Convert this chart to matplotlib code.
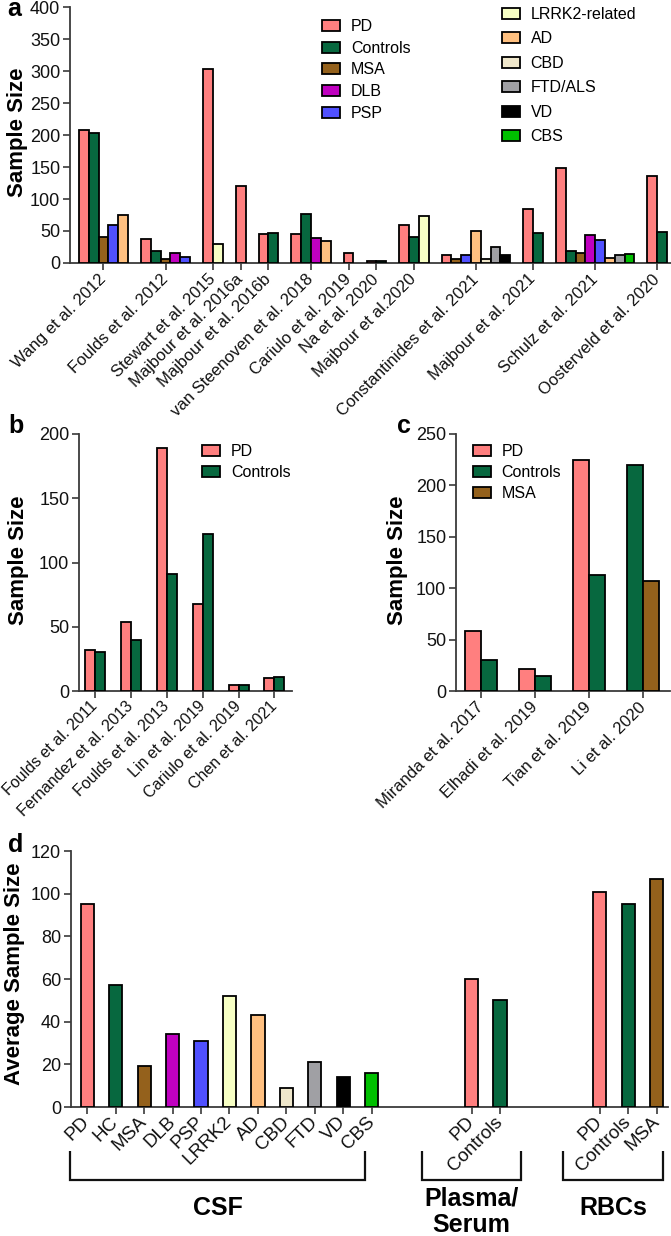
import numpy as np
import matplotlib
matplotlib.use('Agg')
import matplotlib.pyplot as plt
import matplotlib.patches as mpatches
from matplotlib.lines import Line2D

plt.rcParams['font.family'] = ['Liberation Sans', 'DejaVu Sans']

nan = np.nan

# ---------------- data ----------------
series_names = ['PD', 'Controls', 'MSA', 'DLB', 'PSP', 'LRRK2-related', 'AD',
                'CBD', 'FTD/ALS', 'VD', 'CBS']
series_colors = ['#FF7F7F', '#07683F', '#94611C', '#C000C0', '#5050FF', '#F7FFC4',
                 '#FFC080', '#EFE7CB', '#A0A0A4', '#000000', '#00C000']

# panel a (CSF studies)
a_studies = ['Wang et al. 2012', 'Foulds et al. 2012', 'Stewart et al. 2015',
             'Majbour et al. 2016a', 'Majbour et al. 2016b', 'van Steenoven et al. 2018',
             'Cariulo et al. 2019', 'Na et al. 2020', 'Majbour et al.2020',
             'Constantinides et al. 2021', 'Majbour et al. 2021', 'Schulz et al. 2021',
             'Oosterveld et al. 2020']
a_PD       = [208, 38, 303, 120, 45, 45, 16, 3, 59, 12, 85, 148, 136]
a_Controls = [203, 19, nan, nan, 47, 77, nan, 3, 41, nan, 47, 18, 49]
a_MSA      = [40, 6, nan, nan, nan, nan, nan, nan, nan, 7, nan, 15, nan]
a_DLB      = [nan, 16, nan, nan, nan, 39, nan, nan, nan, nan, nan, 43, nan]
a_PSP      = [59, 10, nan, nan, nan, nan, nan, nan, nan, 12, nan, 36, nan]
a_LRRK2    = [nan, nan, 29, nan, nan, nan, nan, nan, 73, nan, nan, nan, nan]
a_AD       = [75, nan, nan, nan, nan, 34, nan, nan, nan, 50, nan, 8, nan]
a_CBD      = [nan, nan, nan, nan, nan, nan, nan, nan, nan, 7, nan, nan, nan]
a_FTD      = [nan, nan, nan, nan, nan, nan, nan, nan, nan, 25, nan, 13, nan]
a_VD       = [nan, nan, nan, nan, nan, nan, nan, nan, nan, 13, nan, nan, nan]
a_CBS      = [nan, nan, nan, nan, nan, nan, nan, nan, nan, nan, nan, 14, nan]
a_series = [a_PD, a_Controls, a_MSA, a_DLB, a_PSP, a_LRRK2, a_AD, a_CBD, a_FTD, a_VD, a_CBS]
a_yticks = [0, 50, 100, 150, 200, 250, 300, 350, 400]

# panel b (plasma/serum studies)
b_studies = ['Foulds et al. 2011', 'Fernandez et al. 2013', 'Foulds et al. 2013',
             'Lin et al. 2019', 'Cariulo et al. 2019', 'Chen et al. 2021']
b_PD       = [32, 54, 189, 68, 5, 10]
b_Controls = [30, 40, 91, 122, 5, 11]
b_yticks = [0, 50, 100, 150, 200]

# panel c (RBC studies)
c_studies = ['Miranda et al. 2017', 'Elhadi et al. 2019', 'Tian et al. 2019', 'Li et al. 2020']
c_PD       = [58, 21, 225, nan]
c_Controls = [30, 15, 113, 220]
c_MSA      = [nan, nan, nan, 107]
c_yticks = [0, 50, 100, 150, 200, 250]

# panel d (average sample sizes)
d_csf_labels = ['PD', 'HC', 'MSA', 'DLB', 'PSP', 'LRRK2', 'AD', 'CBD', 'FTD', 'VD', 'CBS']
d_csf_values = [95, 57, 19, 34, 31, 52, 43, 9, 21, 14, 16]
d_csf_series = ['PD', 'Controls', 'MSA', 'DLB', 'PSP', 'LRRK2-related', 'AD', 'CBD',
                'FTD/ALS', 'VD', 'CBS']
d_plasma_labels = ['PD', 'Controls']
d_plasma_values = [60, 50]
d_plasma_series = ['PD', 'Controls']
d_rbc_labels = ['PD', 'Controls', 'MSA']
d_rbc_values = [101, 95, 107]
d_rbc_series = ['PD', 'Controls', 'MSA']
d_yticks = [0, 20, 40, 60, 80, 100, 120]
d_groups = ['CSF', 'Plasma/\nSerum', 'RBCs']

color_of = dict(zip(series_names, series_colors))

# ---------------- layout helpers ----------------
W, H = 671, 1236
fig = plt.figure(figsize=(W / 100, H / 100), dpi=100)

SPINE = '#3a3a3a'
TICKFS = 13
XLABFS = 12
YLABFS = 16
LEGFS = 11.5
EDGE_LW = 1.3


def axes_px(l, t, r, b):
    return fig.add_axes([l / W, 1 - b / H, (r - l) / W, (b - t) / H])


def style(ax, yticks):
    for s in ['top', 'right']:
        ax.spines[s].set_visible(False)
    for s in ['left', 'bottom']:
        ax.spines[s].set_color(SPINE)
        ax.spines[s].set_linewidth(1.3)
    ax.set_ylim(yticks[0], yticks[-1])
    ax.set_yticks(yticks)
    ax.tick_params(axis='both', direction='out', length=5, width=1.2, color=SPINE)
    ax.tick_params(axis='y', labelsize=TICKFS, pad=2, labelcolor='#111111')
    ax.tick_params(axis='x', labelsize=XLABFS, pad=5, labelcolor='#111111')


def rot_labels(ax, labels, fs=XLABFS):
    ax.set_xticklabels(labels, rotation=45, ha='right', va='center',
                       rotation_mode='anchor', fontsize=fs)


def legend_px(ax, names, x, y, spacing):
    handles = [mpatches.Patch(facecolor=color_of[n], edgecolor='black', linewidth=EDGE_LW)
               for n in names]
    leg = ax.legend(handles, names, loc='upper left', bbox_to_anchor=(x / W, 1 - y / H),
                    bbox_transform=fig.transFigure, frameon=False, fontsize=LEGFS,
                    handlelength=1.1, handleheight=0.7, handletextpad=0.7,
                    labelspacing=spacing, borderpad=0, borderaxespad=0)
    return leg


# ---------------- panel a ----------------
axa = axes_px(70, 7, 671, 263)
GAP_A = 1.34
pos = 0.0
centers_a = []
for j in range(len(a_studies)):
    present = [k for k in range(len(series_names)) if not np.isnan(a_series[k][j])]
    start = pos
    for k in present:
        axa.bar(pos + 0.5, a_series[k][j], width=1.0, color=series_colors[k],
                edgecolor='black', linewidth=EDGE_LW, zorder=3)
        pos += 1
    centers_a.append((start + pos) / 2)
    pos += GAP_A
pos -= GAP_A
axa.set_xlim(-0.92, pos + 0.41)
style(axa, a_yticks)
axa.set_xticks(centers_a)
rot_labels(axa, a_studies)
axa.set_ylabel('Sample Size', fontsize=YLABFS, fontweight='bold')
axa.yaxis.set_label_coords(-0.07, 0.51)
leg1 = legend_px(axa, series_names[:5], 322, 19, 0.42)
axa.add_artist(leg1)
legend_px(axa, series_names[5:], 502, 7, 0.59)

# ---------------- panel b ----------------
axb = axes_px(79, 434, 292, 691)
BW_B = 0.28
xb = np.arange(len(b_studies))
for k, vals in enumerate([b_PD, b_Controls]):
    axb.bar(xb + (k - 0.5) * BW_B, vals, width=BW_B, color=series_colors[k],
            edgecolor='black', linewidth=EDGE_LW, zorder=3)
axb.set_xlim(-0.45, 5.49)
style(axb, b_yticks)
axb.set_xticks(xb)
rot_labels(axb, b_studies, fs=11.5)
axb.tick_params(axis='x', pad=4)
axb.set_ylabel('Sample Size', fontsize=YLABFS, fontweight='bold')
axb.yaxis.set_label_coords(-0.235, 0.51)
legend_px(axb, series_names[:2], 202, 444, 0.38)

# ---------------- panel c ----------------
axc = axes_px(456, 434, 670, 691)
BW_C = 0.30
c_series = [c_PD, c_Controls, c_MSA]
for j in range(len(c_studies)):
    present = [k for k in range(3) if not np.isnan(c_series[k][j])]
    n = len(present)
    for i, k in enumerate(present):
        axc.bar(j + (i - (n - 1) / 2) * BW_C, c_series[k][j], width=BW_C,
                color=series_colors[k], edgecolor='black', linewidth=EDGE_LW, zorder=3)
axc.set_xlim(-0.46, 3.5)
style(axc, c_yticks)
axc.set_xticks(np.arange(len(c_studies)))
rot_labels(axc, c_studies)
axc.set_ylabel('Sample Size', fontsize=YLABFS, fontweight='bold')
axc.yaxis.set_label_coords(-0.224, 0.51)
legend_px(axc, series_names[:3], 473, 444, 0.38)

# ---------------- panel d ----------------
axd = axes_px(70.6, 851, 668, 1107)
GAP_D = 2.5
BW_D = 0.46
xd, lab_d, val_d, col_d = [], [], [], []
start = 0.0
for labels, values, sers in [(d_csf_labels, d_csf_values, d_csf_series),
                             (d_plasma_labels, d_plasma_values, d_plasma_series),
                             (d_rbc_labels, d_rbc_values, d_rbc_series)]:
    for i in range(len(labels)):
        xd.append(start + i)
        lab_d.append(labels[i])
        val_d.append(values[i])
        col_d.append(color_of[sers[i]])
    start += len(labels) + GAP_D
axd.bar(xd, val_d, width=BW_D, color=col_d, edgecolor='black', linewidth=EDGE_LW, zorder=3)
axd.set_xlim(-0.58, 20.4)
style(axd, d_yticks)
axd.set_xticks(xd)
rot_labels(axd, lab_d, fs=13.5)
axd.tick_params(axis='x', pad=4)
axd.set_ylabel('Average Sample Size', fontsize=YLABFS, fontweight='bold')
axd.yaxis.set_label_coords(-0.076, 0.52)

# brackets below panel d (figure pixel coordinates)
def fig_line(xs, ys):
    fig.add_artist(Line2D([x / W for x in xs], [1 - y / H for y in ys],
                          transform=fig.transFigure, color='#111111', linewidth=1.6,
                          solid_joinstyle='miter', solid_capstyle='butt'))

brackets = [(70, 365), (421.7, 521), (563, 663)]
label_y = [1208, 1212, 1208]
for (x0, x1), name, ly in zip(brackets, d_groups, label_y):
    fig_line([x0, x0, x1, x1], [1150.7, 1180, 1180, 1150.7])
    fig.text((x0 + x1) / 2 / W, 1 - ly / H, name, ha='center', va='center',
             fontsize=18, fontweight='bold', linespacing=1.12)

# panel letters
for letter, x, y in [('a', 7, 16), ('b', 8, 433), ('c', 397, 433), ('d', 8, 852)]:
    fig.text(x / W, 1 - y / H, letter, fontsize=18, fontweight='bold', ha='left',
             va='baseline')

fig.savefig('out.png', dpi=100)
